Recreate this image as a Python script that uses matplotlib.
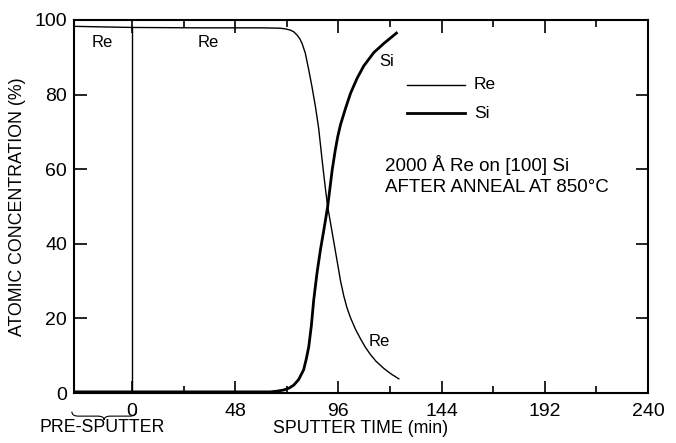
import matplotlib
matplotlib.use("Agg")
import matplotlib.pyplot as plt
from matplotlib.path import Path
from matplotlib.patches import PathPatch
import matplotlib.transforms as mtransforms

plt.rcParams['font.family'] = ['Liberation Sans', 'DejaVu Sans']

# Data
re_x = [-27, 0, 30, 60, 69, 71.5, 73.6, 75.3, 76.7, 78.0, 79.1, 80.6, 82.2, 83.7, 85.3,
        86.8, 88.5, 89.9, 91, 92.5, 94.0, 95.5, 97.0, 98.5, 100.0, 101.6, 104.0, 106.3,
        108.5, 110.9, 113.5, 117.1, 120.5, 124.1]
re_y = [98.3, 98.0, 97.9, 97.9, 97.8, 97.6, 97.3, 96.8, 96.0, 95.0, 93.7, 91.1, 86.6,
        82.1, 76.8, 71.0, 62.0, 55.0, 50, 45.0, 40.0, 35.0, 30.0, 26.0, 22.8, 20.2, 17.0,
        14.5, 12.3, 10.3, 8.5, 6.6, 5.1, 3.8]
si_x = [-27, 0, 40, 64.3, 67.5, 70.5, 73.0, 75.2, 77.5, 79.8, 81.0, 82.2, 83.4, 84.5,
        86.0, 87.6, 89.3, 91, 93.1, 94.5, 95.7, 97.0, 99.3, 101.6, 104.7, 107.8, 112.5,
        117.1, 123.0]
si_y = [0.3, 0.3, 0.3, 0.3, 0.5, 0.8, 1.3, 2.1, 3.6, 6.2, 9.0, 12.4, 18.0, 24.9,
        32.0, 38.3, 44.0, 50, 59.8, 65.0, 68.8, 72.0, 76.3, 80.3, 84.4, 87.7, 91.3,
        93.7, 96.5]

x_ticks = [0, 48, 96, 144, 192, 240]
x_minor = [24, 72, 120, 168, 216]
y_ticks = [0, 20, 40, 60, 80, 100]

fig = plt.figure(figsize=(6.76, 4.43), dpi=100)
ax = fig.add_axes([74/676, 50/443, 574/676, 373/443])

ax.plot(re_x, re_y, color='black', lw=1.0)
ax.plot(si_x, si_y, color='black', lw=2.0)
ax.axvline(0, ymin=0, ymax=0.98, color='black', lw=1.0)

ax.set_xlim(-27, 240)
ax.set_ylim(0, 100)
ax.set_xticks(x_ticks)
ax.set_xticks(x_minor, minor=True)
ax.set_yticks(y_ticks)
ax.tick_params(which='both', direction='in', top=True, right=True, labelsize=14, width=1.2)
ax.tick_params(which='major', length=9)
ax.tick_params(which='minor', length=5)
ax.tick_params(axis='x', pad=7)
ax.tick_params(axis='y', pad=5)
for s in ax.spines.values():
    s.set_linewidth(1.5)

ax.set_ylabel('ATOMIC CONCENTRATION (%)', fontsize=12.8, labelpad=6)
ax.set_xlabel('SPUTTER TIME (min)', fontsize=12.8, labelpad=0)

# in-plot labels
ax.text(-14, 94, 'Re', fontsize=12, ha='center', va='center')
ax.text(35.5, 94, 'Re', fontsize=12, ha='center', va='center')
ax.text(118.5, 89, 'Si', fontsize=12, ha='center', va='center')
ax.text(115, 13.7, 'Re', fontsize=12, ha='center', va='center')

# legend-like key
ax.plot([128, 155], [82.6, 82.6], color='black', lw=1.0)
ax.plot([128, 155], [75.0, 75.0], color='black', lw=2.0)
ax.text(159, 82.6, 'Re', fontsize=12.5, ha='left', va='center')
ax.text(159, 75.0, 'Si', fontsize=12.5, ha='left', va='center')

ax.text(117.5, 61, '2000 Å Re on [100] Si', fontsize=13.5, ha='left', va='center')
ax.text(117.5, 55, 'AFTER ANNEAL AT 850°C', fontsize=13.5, ha='left', va='center')

# pre-sputter brace (below axis)
trans = mtransforms.blended_transform_factory(ax.transData, ax.transAxes)
x0, x1 = -28, 2
xm = (x0 + x1) / 2
yt, yb = -0.05, -0.062
verts = [(x0, yt), (x0, yb), (x0 + 3, yb), (xm - 3, yb),
         (xm, yb), (xm, yb - 0.01),
         (xm, yb), (xm + 3, yb), (x1 - 3, yb),
         (x1, yb), (x1, yt)]
codes = [Path.MOVETO, Path.CURVE3, Path.CURVE3, Path.LINETO,
         Path.CURVE3, Path.CURVE3,
         Path.CURVE3, Path.CURVE3, Path.LINETO,
         Path.CURVE3, Path.CURVE3]
brace = PathPatch(Path(verts, codes), transform=trans, fill=False, lw=0.8,
                  color='black', clip_on=False)
ax.add_patch(brace)
ax.text(-14, -0.093, 'PRE-SPUTTER', transform=trans, fontsize=12.8,
        ha='center', va='center')

fig.savefig('out.png', dpi=100)
